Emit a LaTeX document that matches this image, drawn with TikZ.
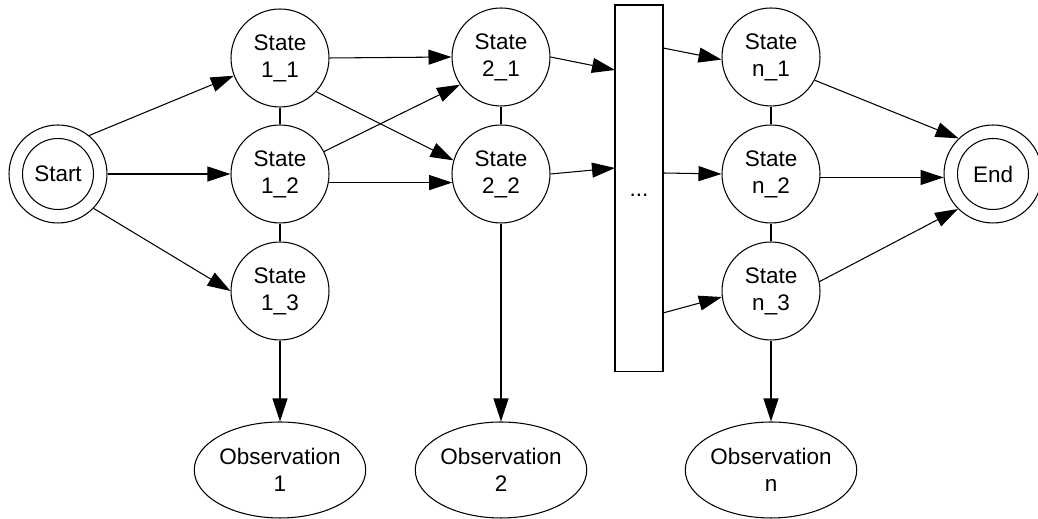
\documentclass[tikz,border=0pt]{standalone}
\usepackage{fontspec}
\setmainfont{Liberation Sans}
\usetikzlibrary{arrows.meta, shapes.geometric}

\begin{document}
\begin{tikzpicture}[x=0.02cm, y=0.02cm, line width=0.6pt,
		every node/.style={font=\fontsize{12.8}{15.3}\selectfont, align=center},
		state/.style={circle, draw, fill=white, minimum size=1.96cm, inner sep=0pt},
		terminal/.style={state, path picture={\draw (path picture bounding box.center) circle [radius=0.71cm];}},
		observation/.style={ellipse, draw, fill=white, minimum width=3.16cm, minimum height=1.92cm, inner sep=0pt},
		skipbox/.style={rectangle, draw, fill=white, minimum width=0.96cm, minimum height=7.34cm, inner sep=0pt},
		arrow/.style={-{Triangle[length=0.46cm, width=0.3cm]}}]
		\useasboundingbox (0,0) rectangle (1038,519);
		
		% start and end
		\node[terminal] (start) at (58,345) {Start};
		\node[terminal] (end) at (993,345) {End};
		
		% first column
		\node[state] (s11) at (280,461) {State\\1\_1};
		\node[state] (s12) at (280,345) {State\\1\_2};
		\node[state] (s13) at (280,228) {State\\1\_3};
		
		% second column
		\node[state] (s21) at (501,462) {State\\2\_1};
		\node[state] (s22) at (501,345) {State\\2\_2};
		
		% the states in between
		\node[skipbox] (skip) at (639,330.5) {\raisebox{-0.17cm}[0pt][0pt]{...}};
		\coordinate (skip in1) at (615,449);
		\coordinate (skip in2) at (615,351);
		\coordinate (skip out1) at (663,471);
		\coordinate (skip out2) at (663,346);
		\coordinate (skip out3) at (663,206);
		
		% last column
		\node[state] (sn1) at (771,462) {State\\n\_1};
		\node[state] (sn2) at (771,345) {State\\n\_2};
		\node[state] (sn3) at (771,228) {State\\n\_3};
		
		% observations
		\node[observation] (obs1) at (280,49) {Observation\\1};
		\node[observation] (obs2) at (501,49) {Observation\\2};
		\node[observation] (obsn) at (771,49) {Observation\\n};
		
		\draw (s11) -- (s12) -- (s13);
		\draw (s21) -- (s22);
		\draw (sn1) -- (sn2) -- (sn3);
		
		\draw[arrow] (start.51) -- (s11.201);
		\draw[arrow] (start.east) -- (s12.west);
		\draw[arrow] (start.-44) -- (s13.180);
		
		\draw[arrow] (s11.east) -- (s21.west);
		\draw[arrow] (s11.-43) -- (s22.164);
		\draw[arrow] (s12.27) -- (s21.214);
		\draw[arrow] (s12.-10) -- (s22.190);
		
		\draw[arrow] (s21.east) -- (skip in1);
		\draw[arrow] (s22.east) -- (skip in2);
		\draw[arrow] (skip out1) -- (sn1.183);
		\draw[arrow] (skip out2) -- (sn2.west);
		\draw[arrow] (skip out3) -- (sn3.187);
		
		\draw[arrow] (sn1.-28) -- (end.134);
		\draw[arrow] (sn2.-4) -- (end.184);
		\draw[arrow] (sn3.11) -- (end.225);
		
		\draw[arrow] (s13.south) -- (obs1.north);
		\draw[arrow] (s22.south) -- (obs2.north);
		\draw[arrow] (sn3.south) -- (obsn.north);
	\end{tikzpicture}
\end{document}
